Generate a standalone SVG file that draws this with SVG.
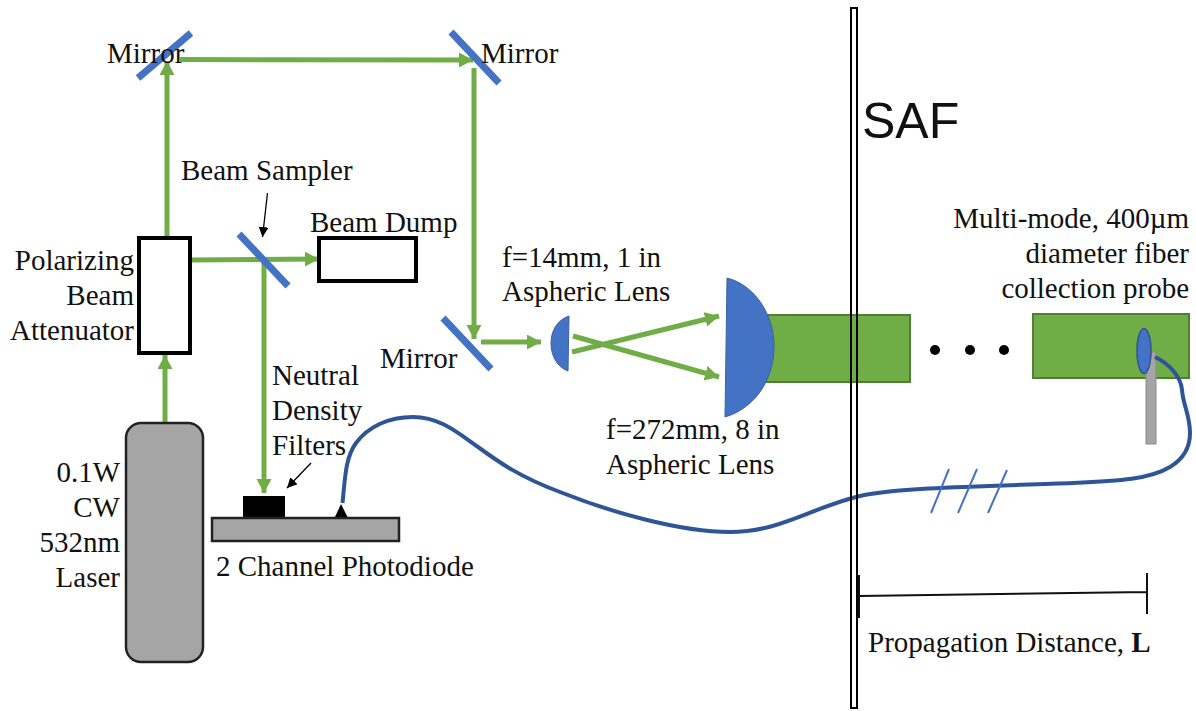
<svg xmlns="http://www.w3.org/2000/svg" width="1196" height="711" viewBox="0 0 1196 711">
<style>
text{font-family:"Liberation Serif","Times New Roman",serif;font-size:29px;fill:#111}
.end{text-anchor:end}
.beam{stroke:#70AD47;stroke-width:5;fill:none}
.head{fill:#70AD47}
.mirror{stroke:#4472C4;stroke-width:7;fill:none}
.lens{fill:#4472C4;stroke:#3A62A8;stroke-width:1}
.box{fill:#fff;stroke:#000;stroke-width:4}
.gray{fill:#A5A5A5;stroke:#222;stroke-width:2.500}
.field{fill:#70AD47;stroke:#507E32;stroke-width:2}
</style>
<defs>
<marker id="gh" markerUnits="userSpaceOnUse" markerWidth="16" markerHeight="16" refX="14" refY="7.5" orient="auto"><path d="M0,0L14,7.5L0,15Z" class="head"/></marker>
<marker id="kh" markerUnits="userSpaceOnUse" markerWidth="12" markerHeight="12" refX="10" refY="5" orient="auto"><path d="M0,0L10,5L0,10Z" fill="#000"/></marker>
</defs>
<g id="field-near"><rect class="field" x="765" y="315" width="145" height="67"/></g>
<g id="field-far"><rect class="field" x="1033" y="314" width="156" height="64"/></g>
<g id="connectors">
<line class="beam" x1="165" y1="423" x2="165" y2="355" marker-end="url(#gh)"/>
<line class="beam" x1="167" y1="238" x2="167" y2="61" marker-end="url(#gh)"/>
<line class="beam" x1="180" y1="59.500" x2="473" y2="60" marker-end="url(#gh)"/>
<line class="beam" x1="474" y1="68" x2="474" y2="339" marker-end="url(#gh)"/>
<line class="beam" x1="481" y1="342" x2="541" y2="342" marker-end="url(#gh)"/>
<line class="beam" x1="190" y1="260" x2="319" y2="259" marker-end="url(#gh)"/>
<line class="beam" x1="264" y1="259" x2="264" y2="493" marker-end="url(#gh)"/>
<line class="beam" x1="572" y1="352" x2="719" y2="316" marker-end="url(#gh)"/>
<line class="beam" x1="573" y1="336" x2="719" y2="377" marker-end="url(#gh)"/>
<line x1="267.500" y1="193" x2="262.500" y2="237" stroke="#000" stroke-width="1.300" marker-end="url(#kh)"/>
<line x1="311" y1="463" x2="287" y2="488" stroke="#000" stroke-width="1.300" marker-end="url(#kh)"/>
</g>
<g id="mirror-1"><line class="mirror" x1="138" y1="78" x2="191" y2="33"/><text x="107" y="63">Mirror</text></g>
<g id="mirror-2"><line class="mirror" x1="451" y1="32" x2="499" y2="83"/><text x="481" y="63">Mirror</text></g>
<g id="mirror-3"><line class="mirror" x1="443" y1="318" x2="491" y2="369"/><text x="380" y="368">Mirror</text></g>
<g id="beam-sampler"><line class="mirror" x1="239" y1="234" x2="288" y2="286"/><text x="181" y="180">Beam Sampler</text></g>
<g id="attenuator"><rect class="box" x="139" y="238" width="51" height="115"/><text class="end" x="134" y="270">Polarizing</text><text class="end" x="134" y="305">Beam</text><text class="end" x="134" y="340">Attenuator</text></g>
<g id="beam-dump"><rect class="box" x="319" y="238" width="97" height="43"/><text x="310" y="232">Beam Dump</text></g>
<g id="laser"><rect class="gray" x="126" y="423" width="77" height="239" rx="15"/><text class="end" x="120" y="482">0.1W</text><text class="end" x="120" y="517">CW</text><text class="end" x="120" y="552">532nm</text><text class="end" x="120" y="587">Laser</text></g>
<g id="nd-filters"><rect x="243" y="496" width="42" height="21" fill="#000"/><text x="272" y="385">Neutral</text><text x="272" y="420">Density</text><text x="272" y="455">Filters</text></g>
<g id="photodiode"><rect class="gray" x="212" y="518" width="187" height="23"/><path d="M335,517L341,504L347.500,517Z" fill="#000"/><text x="216" y="576">2 Channel Photodiode</text></g>
<g id="lens-small"><path class="lens" d="M569,316C557,320 551,331 551,343C551,356 557,367 568,371Z"/><text x="502" y="267">f=14mm, 1 in</text><text x="502" y="301">Aspheric Lens</text></g>
<g id="lens-large"><path class="lens" d="M727,278C755,285 774,315 774,346C774,380 755,408 725,417Z"/><text x="606" y="439">f=272mm, 8 in</text><text x="606" y="474">Aspheric Lens</text></g>
<g id="fiber-probe"><rect x="1146" y="352" width="10" height="92" fill="#A5A5A5" stroke="#8a8a8a"/><ellipse cx="1144" cy="351" rx="7" ry="22.500" fill="#4472C4" stroke="#2F5597" stroke-width="1.500"/><text class="end" x="1189" y="228">Multi-mode, 400µm</text><text class="end" x="1189" y="263">diameter fiber</text><text class="end" x="1189" y="298">collection probe</text></g>
<g id="fiber"><path d="M342.500,503C345,480 345,458 356,443C368,427 388,417 413,417C440,417 458,433 478,447C500,463 520,477 560,492C610,512 680,532 730,532C780,532 810,508 860,496C900,487 1000,486 1073,483C1120,481 1150,479 1170,467C1185,458 1190,445 1190,433C1190,415 1183,405 1182,390C1181,376 1168,363 1155,357" fill="none" stroke="#2F5597" stroke-width="4"/>
<path d="M949,469L931,513M977,469L958,513M1007,470L988,513" stroke="#4472C4" stroke-width="2" fill="none"/></g>
<g id="saf-wall"><rect x="851" y="8" width="6" height="700" fill="none" stroke="#000" stroke-width="2"/><text x="862" y="138" style="font-family:'Liberation Sans',Arial,sans-serif;font-size:50px">SAF</text></g>
<g id="dots"><circle cx="935" cy="350" r="5" fill="#000"/><circle cx="970" cy="350" r="5" fill="#000"/><circle cx="1004" cy="350" r="5" fill="#000"/></g>
<g id="distance"><path d="M859,575V618M859,596L1147,592M1147,573V614" fill="none" stroke="#111" stroke-width="2"/><text x="868" y="652">Propagation Distance, <tspan font-weight="bold">L</tspan></text></g>
</svg>
